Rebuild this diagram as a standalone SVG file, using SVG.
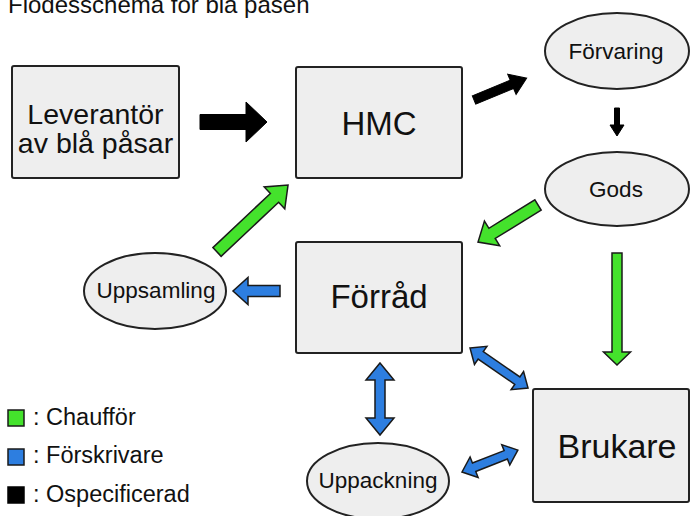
<svg xmlns="http://www.w3.org/2000/svg" width="691" height="516" viewBox="0 0 691 516">
<style>
text{font-family:"Liberation Sans",Arial,sans-serif;fill:#111}
.box{fill:#eeeeee;stroke:#222;stroke-width:2}
.ell{fill:#eeeeee;stroke:#222;stroke-width:2}
.g{fill:#44e22c;stroke:#1a1a1a;stroke-width:1.5;stroke-linejoin:miter}
.b{fill:#2d7ee0;stroke:#1a1a1a;stroke-width:1.5;stroke-linejoin:miter}
.k{fill:#000;stroke:#000;stroke-width:1}
.big{font-size:33px;text-anchor:middle}
.mid{font-size:22.5px;text-anchor:middle}
.leg{font-size:23.5px}
</style>
<rect width="691" height="516" fill="#fff"/>
<text x="8" y="13" style="font-size:24px">Flödesschema för blå påsen</text>

<g id="leverantor">
<rect class="box" x="12" y="66" width="167" height="112" rx="2"/>
<text x="95.5" y="124" style="font-size:28.5px;text-anchor:middle">Leverantör</text>
<text x="95.5" y="153" style="font-size:28.5px;text-anchor:middle">av blå påsar</text>
</g>
<g id="hmc">
<rect class="box" x="296" y="67" width="166" height="111" rx="2"/>
<text class="big" x="379" y="135">HMC</text>
</g>
<g id="forvaring">
<ellipse class="ell" cx="617" cy="51" rx="72" ry="38"/>
<text class="mid" x="616" y="59">Förvaring</text>
</g>
<g id="gods">
<ellipse class="ell" cx="617" cy="189" rx="72" ry="37"/>
<text class="mid" x="616" y="197">Gods</text>
</g>
<g id="forrad">
<rect class="box" x="296" y="242" width="166" height="111" rx="2"/>
<text class="big" x="379" y="308">Förråd</text>
</g>
<g id="uppsamling">
<ellipse class="ell" cx="155" cy="291" rx="71" ry="38"/>
<text class="mid" x="156" y="298">Uppsamling</text>
</g>
<g id="brukare">
<rect class="box" x="533" y="389" width="156" height="113" rx="2"/>
<text x="617" y="458" style="font-size:34px;text-anchor:middle">Brukare</text>
</g>
<g id="uppackning">
<ellipse class="ell" cx="378" cy="481" rx="71" ry="38"/>
<text class="mid" x="378" y="488">Uppackning</text>
</g>

<g id="connectors">
<polygon class="k" points="200,114.5 246,114.5 246,102 267,122 246,142 246,129.5 200,129.5"/>
<polygon class="k" transform="translate(474,100) rotate(-22.5)" points="0,-4.5 41,-4.5 41,-11 57,0 41,11 41,4.5 0,4.5"/>
<polygon class="k" transform="translate(617,108) rotate(90)" points="0,-2.5 17,-2.5 17,-7 28,0 17,7 17,2.5 0,2.5"/>
<polygon class="g" transform="translate(538,205) rotate(148.3)" points="0,-6 54,-6 54,-14.5 70.5,0 54,14.5 54,6 0,6"/>
<polygon class="g" transform="translate(217,252) rotate(-43.3)" points="0,-6 79,-6 79,-15 97.6,0 79,15 79,6 0,6"/>
<polygon class="g" transform="translate(617,253) rotate(90)" points="0,-5 99,-5 99,-13.5 112,0 99,13.5 99,5 0,5"/>
<polygon class="b" transform="translate(280,291) rotate(180)" points="0,-5.5 32,-5.5 32,-13.5 47,0 32,13.5 32,5.5 0,5.5"/>
<polygon class="b" transform="translate(470,348) rotate(34.6)" points="0,0 13,-11 13,-4.5 57.5,-4.5 57.5,-11 70.5,0 57.5,11 57.5,4.5 13,4.5 13,11"/>
<polygon class="b" transform="translate(462,472) rotate(-21.4)" points="0,0 13,-11 13,-4.5 47,-4.5 47,-11 60,0 47,11 47,4.5 13,4.5 13,11"/>
<polygon class="b" transform="translate(380,363) rotate(90)" points="0,0 17,-14 17,-5 55,-5 55,-14 72,0 55,14 55,5 17,5 17,14"/>
</g>

<g id="legend">
<rect x="8" y="410" width="16" height="16" fill="#44e22c" stroke="#1a1a1a" stroke-width="1.5"/>
<text class="leg" x="33" y="425">: Chaufför</text>
<rect x="8" y="449" width="16" height="16" fill="#2d7ee0" stroke="#1a1a1a" stroke-width="1.5"/>
<text class="leg" x="33" y="463">: Förskrivare</text>
<rect x="8" y="487" width="16" height="16" fill="#000" stroke="#000" stroke-width="1.5"/>
<text class="leg" x="33" y="502">: Ospecificerad</text>
</g>
</svg>
